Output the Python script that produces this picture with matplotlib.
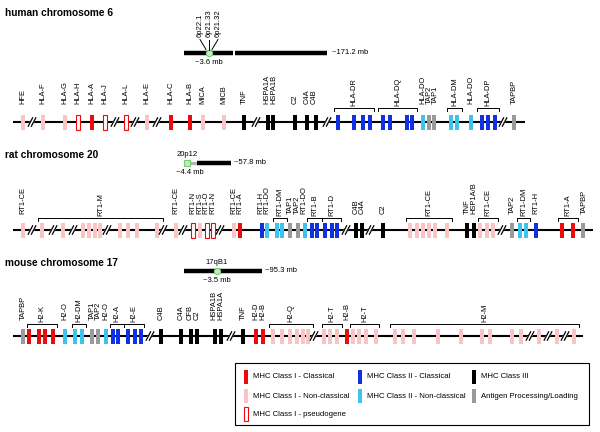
import matplotlib
matplotlib.use("Agg")
import matplotlib.pyplot as plt
from matplotlib.patches import Rectangle, Polygon

plt.rcParams['font.family'] = ['Liberation Sans', 'DejaVu Sans']

# ---------------- data ----------------
COLORS = {
    'I': '#ee0a0a',      # MHC Class I - Classical
    'In': '#f8c4c6',     # MHC Class I - Non-classical
    'Ip': '#ffffff',     # MHC Class I - pseudogene
    'II': '#1030e6',     # MHC Class II - Classical
    'IIn': '#3cc3ee',    # MHC Class II - Non-classical
    'III': '#000000',    # MHC Class III
    'AP': '#9a9a9a',     # Antigen Processing/Loading
}

# human chromosome 6
hu_title = "human chromosome 6"
hu_gene_pos = [23, 43, 65, 78, 92, 105, 126, 147, 171, 190, 203, 224, 244, 268, 273, 295, 307, 316,
               338, 354, 363, 370, 383, 390, 407, 412, 423, 429, 434, 451, 457, 471, 482, 488, 495, 514]
hu_gene_cls = ['In', 'In', 'In', 'Ip', 'I', 'Ip', 'Ip', 'In', 'I', 'I', 'In', 'In', 'III', 'III', 'III', 'III', 'III', 'III',
               'II', 'II', 'II', 'II', 'II', 'II', 'II', 'II', 'IIn', 'AP', 'AP', 'IIn', 'IIn', 'IIn', 'II', 'II', 'II', 'AP']
hu_labels = ["HFE", "HLA-F", "HLA-G", "HLA-H", "HLA-A", "HLA-J", "HLA-L", "HLA-E", "HLA-C", "HLA-B",
             "MICA", "MICB", "TNF", "HSPA1A", "HSPA1B", "C2", "C4A", "C4B", "HLA-DO", "TAP2", "TAP1",
             "HLA-DO", "TAPBP"]
hu_label_pos = [23, 43, 65, 78, 92, 105, 126, 147, 171, 190, 203, 224, 244, 267, 274, 295, 307, 314,
                423, 429, 435, 471, 514]
hu_brackets = ["HLA-DR", "HLA-DQ", "HLA-DM", "HLA-DP"]
hu_bracket_span = [(334, 374), (378, 417), (447, 462), (477, 499)]
hu_breaks = [32, 115, 135, 157, 256, 327, 503]
hu_extent = (13, 525)

# rat chromosome 20
rat_title = "rat chromosome 20"
rat_gene_pos = [23, 42, 63, 83, 89, 95, 100, 120, 128, 137, 157, 176, 193, 200, 207, 213, 234, 240,
                262, 267, 277, 282, 290, 298, 305, 312, 317, 325, 332, 337, 356, 362, 383,
                410, 417, 423, 429, 435, 447, 467, 474, 480, 487, 493, 512, 520, 526, 536, 562, 573, 583]
rat_gene_cls = ['In'] * 11 + ['In', 'Ip', 'In', 'Ip', 'Ip', 'In', 'I',
                              'II', 'IIn', 'IIn', 'IIn', 'AP', 'AP', 'IIn', 'II', 'II', 'II', 'II', 'II',
                              'III', 'III', 'III'] + ['In'] * 6 + ['III', 'III', 'In', 'In', 'In', 'AP',
                                                                   'IIn', 'IIn', 'II', 'I', 'I', 'AP']
rat_labels = ["RT1-CE", "RT1-CE", "RT1-N", "RT1-S", "RT1-O", "RT1-N", "RT1-CE", "RT1-A",
              "RT1-H", "RT1-DO", "TAP1", "TAP2", "RT1-DO", "C4B", "C4A", "C2", "TNF", "HSP1A/B",
              "TAP2", "RT1-H", "TAPBP"]
rat_label_pos = [23, 176, 193, 199.5, 206, 212.5, 233.5, 240, 261, 267, 290, 297, 304,
                 356, 362, 383, 467, 474, 512, 536, 584]
rat_brackets = ["RT1-M", "RT1-DM", "RT1-B", "RT1-D", "RT1-CE", "RT1-CE", "RT1-DM", "RT1-A"]
rat_bracket_span = [(38, 163), (273, 287), (307, 322), (322, 341), (406, 452), (478, 498),
                    (517, 530), (558, 578)]
rat_breaks = [32, 53, 73, 107, 163, 183, 220, 346, 370, 502]
rat_extent = (13, 593)

# mouse chromosome 17
mo_title = "mouse chromosome 17"
mo_gene_pos = [23, 29, 39, 45, 53, 65, 75, 82, 92, 98, 106, 113, 118, 128, 135, 141, 161, 181, 191, 197,
               215, 221, 243, 256, 263, 273, 282, 290, 297, 303, 308, 324, 330, 337, 347, 353, 359, 366, 376,
               395, 403, 414, 438, 461, 482, 490, 512, 521, 539, 557, 574]
mo_gene_cls = ['AP', 'I', 'I', 'I', 'I', 'IIn', 'IIn', 'IIn', 'AP', 'AP', 'IIn', 'II', 'II', 'II', 'II', 'II',
               'III', 'III', 'III', 'III', 'III', 'III', 'III', 'I', 'I'] + ['In'] * 9 + ['I'] + ['In'] * 16
mo_labels = ["TAPBP", "H2-O", "TAP1", "TAP2", "H2-O", "C4B", "C4A", "CFB", "C2", "HSPA1B", "HSPA1A",
             "TNF", "H2-D", "H2-B", "H2-B"]
mo_label_pos = [23, 65, 92, 98, 106, 161, 181, 190, 197, 214, 221, 243, 256, 263, 347]
mo_brackets = ["H2-K", "H2-DM", "H2-A", "H2-E", "H2-Q", "H2-T", "H2-T", "H2-M"]
mo_bracket_span = [(27, 57), (72, 86), (110, 124), (124, 144), (269, 313), (322, 342), (350, 379), (390, 579)]
mo_breaks = [150, 231, 314, 530, 548, 565]
mo_extent = (13, 583)

legend_items = [("I", "MHC Class I - Classical"), ("In", "MHC Class I - Non-classical"),
                ("Ip", "MHC Class I - pseudogene"), ("II", "MHC Class II - Classical"),
                ("IIn", "MHC Class II - Non-classical"), ("III", "MHC Class III"),
                ("AP", "Antigen Processing/Loading")]

# ---------------- drawing ----------------
fig = plt.figure(figsize=(6.0, 4.32), dpi=100)
ax = fig.add_axes([0, 0, 1, 1])
ax.set_xlim(0, 600)
ax.set_ylim(432, 0)
ax.axis('off')

LFS = 5.4   # gene label size
GW, GH = 4.9, 15


def draw_row(title, title_y, line_y, lab_y, br_y, extent, gpos, gcls, labels, lpos, brackets, bspan, breaks):
    ax.text(5, title_y, title, fontsize=7.3, fontweight='bold', ha='left', va='center')
    ax.plot(extent, [line_y, line_y], color='black', lw=1.5, solid_capstyle='butt', zorder=1)
    for cls in COLORS:
        xs = [p for p, c in zip(gpos, gcls) if c == cls]
        if not xs:
            continue
        if cls == 'Ip':
            ax.bar(xs, GH, width=GW, bottom=line_y - GH / 2, color='white', edgecolor=COLORS['I'],
                   linewidth=0.8, zorder=3)
        else:
            ax.bar(xs, GH, width=GW, bottom=line_y - GH / 2, color=COLORS[cls], linewidth=0, zorder=3)
    for b in breaks:
        ax.add_patch(Polygon([(b - 3.5, line_y + 3), (b + 0.5, line_y - 3), (b + 3.5, line_y - 3),
                              (b - 0.5, line_y + 3)], closed=True, color='white', zorder=2))
        for dx in (-1.6, 1.6):
            ax.plot([b + dx - 2.2, b + dx + 2.2], [line_y + 4.2, line_y - 4.2], color='black', lw=0.9,
                    zorder=4)
    for t, x in zip(labels, lpos):
        ax.text(x, lab_y, t, rotation=90, fontsize=LFS, ha='center', va='bottom')
    for t, (a, b) in zip(brackets, bspan):
        ax.plot([a, a, b, b], [br_y + 3, br_y, br_y, br_y + 3], color='black', lw=0.7)
        ax.text((a + b) / 2, br_y - 2.5, t, rotation=90, fontsize=LFS, ha='center', va='bottom')


draw_row(hu_title, 13, 122, 104, 108, hu_extent, hu_gene_pos, hu_gene_cls, hu_labels, hu_label_pos,
         hu_brackets, hu_bracket_span, hu_breaks)
draw_row(rat_title, 155, 230, 214, 218, rat_extent, rat_gene_pos, rat_gene_cls, rat_labels, rat_label_pos,
         rat_brackets, rat_bracket_span, rat_breaks)
draw_row(mo_title, 263, 336, 320.5, 324, mo_extent, mo_gene_pos, mo_gene_cls, mo_labels, mo_label_pos,
         mo_brackets, mo_bracket_span, mo_breaks)

SFS = 5.5
GREEN_FC, GREEN_EC = '#c4ecc0', '#7acb72'
# human ideogram
ax.plot([184, 233], [53, 53], color='black', lw=3.2, solid_capstyle='butt')
ax.plot([235, 327], [53, 53], color='black', lw=3.2, solid_capstyle='butt')
ax.plot([209], [53], marker='o', ms=4.5, mfc=GREEN_FC, mec=GREEN_EC, mew=0.8)
for t, x, x2 in [("6p22.1", 200, 206), ("6p21.33", 209, 209), ("6p21.32", 218, 212)]:
    ax.text(x, 37, t, rotation=90, fontsize=SFS, ha='center', va='bottom')
    ax.plot([x, x2], [39.5, 49.5], color='black', lw=0.7)
ax.text(209, 62, "~3.6 mb", fontsize=SFS, ha='center', va='center')
ax.text(332, 53, "~171.2 mb", fontsize=SFS, ha='left', va='center')

# rat ideogram
ax.plot([184, 197], [163, 163], color='#b4b4b4', lw=2.2, solid_capstyle='butt')
ax.plot([197, 231], [163, 163], color='black', lw=3.2, solid_capstyle='butt')
ax.plot([187], [163], marker='s', ms=4.2, mfc=GREEN_FC, mec=GREEN_EC, mew=0.8)
ax.text(187, 154, "20p12", fontsize=SFS, ha='center', va='center')
ax.text(234, 163, "~57.8 mb", fontsize=SFS, ha='left', va='center')
ax.text(190, 172, "~4.4 mb", fontsize=SFS, ha='center', va='center')

# mouse ideogram
ax.plot([184, 262], [271, 271], color='black', lw=3.2, solid_capstyle='butt')
ax.plot([217], [271], marker='o', ms=4.5, mfc=GREEN_FC, mec=GREEN_EC, mew=0.8)
ax.text(217, 262.5, "17qB1", fontsize=SFS, ha='center', va='center')
ax.text(265, 271, "~95.3 mb", fontsize=SFS, ha='left', va='center')
ax.text(217, 280.5, "~3.5 mb", fontsize=SFS, ha='center', va='center')

# legend
ax.add_patch(Rectangle((235, 363), 354, 62, fill=False, edgecolor='black', lw=0.8))
legend_xy = [(246, 377), (246, 396), (246, 414), (360, 377), (360, 396), (474, 377), (474, 396)]
for (cls, txt), (x, y) in zip(legend_items, legend_xy):
    if cls == 'Ip':
        ax.bar([x], 14, width=4.6, bottom=y - 7, color='white', edgecolor=COLORS['I'], linewidth=0.8)
    else:
        ax.bar([x], 14, width=4.6, bottom=y - 7, color=COLORS[cls], linewidth=0)
    ax.text(x + 7, y, txt, fontsize=5.6, ha='left', va='center')

fig.savefig("out.png", dpi=100)
